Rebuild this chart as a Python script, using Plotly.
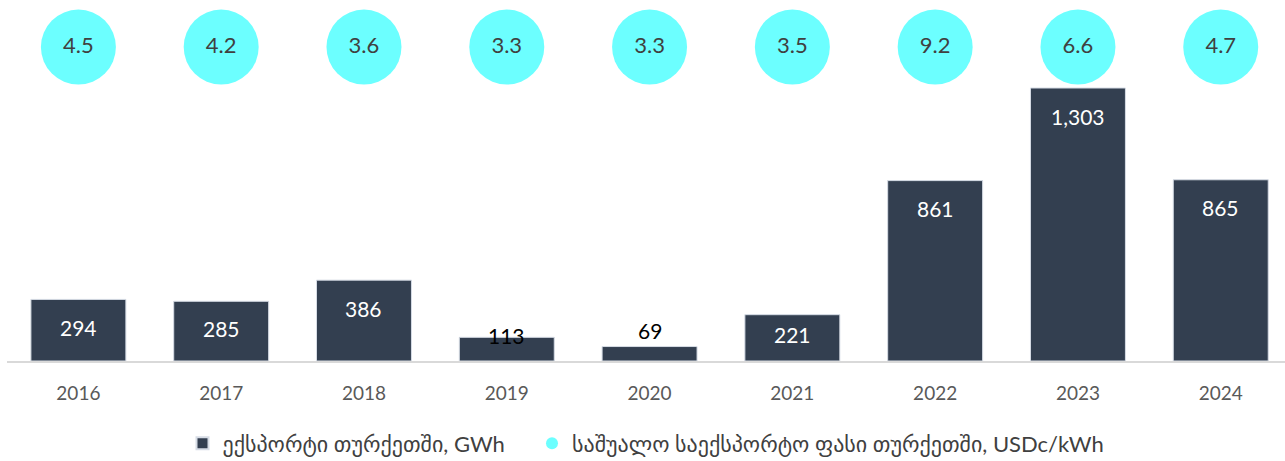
import plotly.graph_objects as go

years = ["2016", "2017", "2018", "2019", "2020", "2021", "2022", "2023", "2024"]
export_gwh = [294, 285, 386, 113, 69, 221, 861, 1303, 865]
price_usdc = [4.5, 4.2, 3.6, 3.3, 3.3, 3.5, 9.2, 6.6, 4.7]
bar_name = "ექსპორტი თურქეთში, GWh"
price_name = "საშუალო საექსპორტო ფასი თურქეთში, USDc/kWh"

BAR_COLOR = "#333F50"
BUBBLE_COLOR = "#6CFFFF"
FONT = "Lato, 'DejaVu Sans', sans-serif"

Y_MAX = 1723
PLOT_H = 361  # px of plotting area height
PX_PER_UNIT = PLOT_H / Y_MAX

fig = go.Figure()
fig.add_trace(go.Bar(
    x=years, y=export_gwh, name=bar_name + "\u2003 ",
    marker=dict(color=BAR_COLOR, line=dict(color="#D6DCE5", width=1)),
    width=0.665,
    hoverinfo="skip",
))

# value labels: inside near the top for tall bars, above/over the top for short ones
for i, v in enumerate(export_gwh):
    h = v * PX_PER_UNIT
    if v < 100:
        shift, col = 16, "#000000"
    elif v < 150:
        shift, col = 2, "#000000"
    else:
        shift, col = -min(28, h / 2 - 3), "#FFFFFF"
    fig.add_annotation(
        x=i, y=v, xref="x", yref="y", text=f"{v:,}", showarrow=False,
        yanchor="middle", yshift=shift,
        font=dict(color=col, size=21, family=FONT),
    )

bubble_row = [1] * len(price_usdc)
fig.add_trace(go.Scatter(
    x=years, y=bubble_row, yaxis="y2", mode="markers+text",
    marker=dict(size=75, color=BUBBLE_COLOR, line=dict(width=0)),
    text=[f"{p:.1f}" for p in price_usdc], textposition="middle center",
    textfont=dict(color="#404040", size=22, family=FONT),
    showlegend=False, cliponaxis=False, hoverinfo="skip",
))
fig.add_trace(go.Scatter(
    x=[None], y=[None], mode="markers", name=price_name,
    marker=dict(size=13, color=BUBBLE_COLOR, symbol="circle"),
))

fig.update_layout(
    width=1285, height=461,
    margin=dict(l=7, r=0, t=0, b=100, autoexpand=False),
    paper_bgcolor="white", plot_bgcolor="white",
    font=dict(family=FONT, color="#595959"),
    xaxis=dict(
        type="category", range=[-0.5, 8.45],
        showline=True, linecolor="#D9D9D9", linewidth=2,
        showgrid=False, ticks="", zeroline=False,
        tickfont=dict(size=19, color="#595959", family=FONT),
        ticklabelstandoff=14,
    ),
    yaxis=dict(range=[0, Y_MAX], visible=False, showgrid=False, zeroline=False),
    yaxis2=dict(range=[0, 1.15], overlaying="y", visible=False,
                showgrid=False, zeroline=False),
    legend=dict(
        orientation="h", x=0.5, xanchor="center", y=-0.17, yanchor="top",
        font=dict(size=22, color="#404040", family=FONT),
        itemsizing="constant", traceorder="normal", itemwidth=30,
    ),
    showlegend=True,
)

fig.write_html("out.html", config={"displayModeBar": False},
               post_script="document.body.style.margin='0';")
